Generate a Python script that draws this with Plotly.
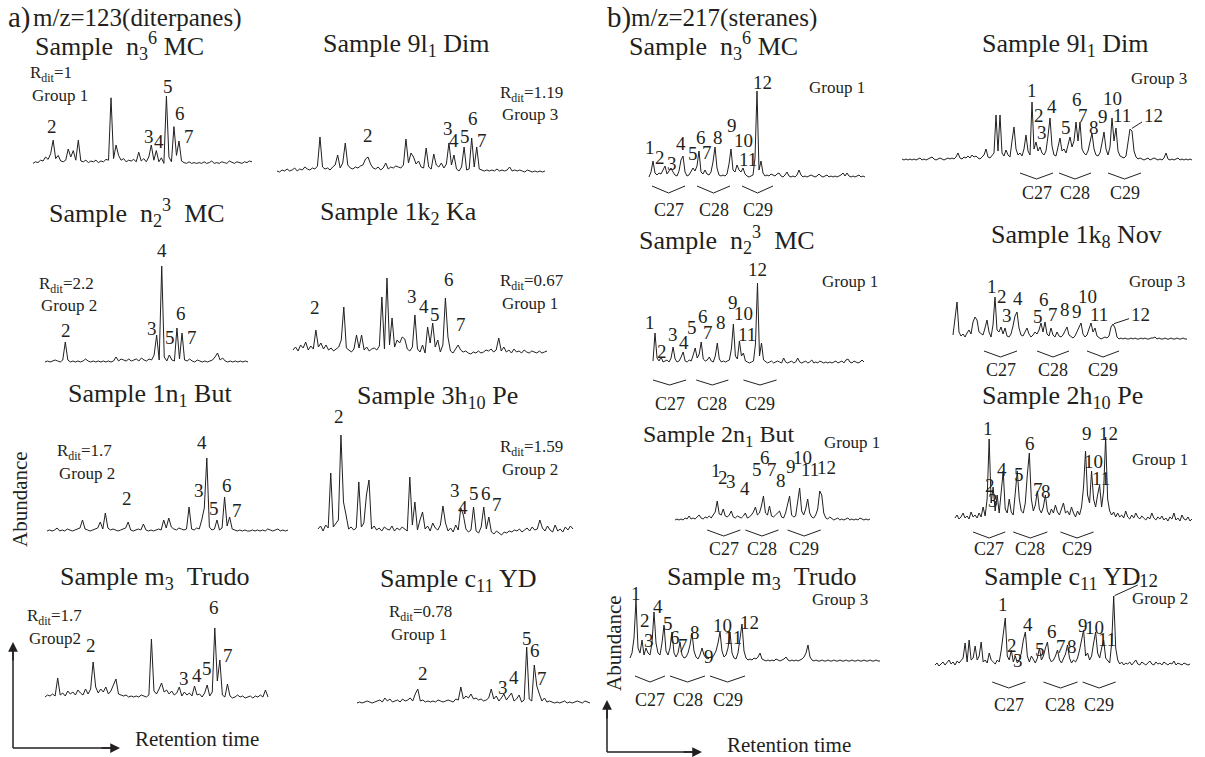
import plotly.graph_objects as go

W, H = 1205, 757
FONT = "Liberation Serif, Times New Roman, serif"
INK = "#231f20"
NB = "\u00a0"

# ---------------- data: m/z 123 (diterpanes) chromatograms ----------------
a1_ab = [2,4,3,6,5,10,7,14,31,8,12,5,4,6,20,10,18,6,31,5,4,6,3,5,4,6,3,5,4,7,6,84,8,25,12,6,8,4,6,5,7,4,16,5,8,4,10,25,6,18,4,9,2,86,10,4,48,12,30,5,3,2,4,2,3,2,3,2,4,2,3,5,2,3,2,4,3,2,5,3,2,4,3,2,4,3,5,4]
a2_ab = [2,1,3,2,4,2,3,5,2,4,3,6,4,3,5,4,7,36,6,4,5,3,6,8,18,5,10,30,8,5,4,6,5,7,8,14,16,9,5,4,6,3,5,10,4,6,5,7,6,5,8,34,10,20,16,9,12,6,5,25,6,4,19,8,6,10,5,9,30,8,18,4,2,6,26,3,4,35,6,26,4,3,2,3,2,3,2,4,2,3,2,3,6,2,3,2,3,2,1,3,2,1,2,1,2,1,2]
a3_ab = [1,2,1,2,3,2,1,3,21,3,1,2,1,2,1,2,4,2,1,2,1,2,1,2,1,2,1,2,6,2,4,3,2,4,2,3,4,2,5,3,2,4,3,8,28,3,97,6,2,8,3,2,35,4,30,3,2,4,2,1,3,2,1,2,1,2,3,6,10,3,5,2,1,2,1,2,1,2,1,2,1]
a4_ab = [5,8,4,10,7,13,5,9,6,25,8,12,6,10,5,7,4,6,8,15,48,7,5,3,6,20,7,20,5,8,4,6,7,5,9,58,6,77,10,37,8,15,12,18,16,6,4,8,40,6,3,10,2,28,12,32,8,15,3,10,57,18,4,2,6,10,5,3,4,2,1,3,2,4,2,3,5,4,6,3,5,17,4,8,3,5,2,6,3,4,2,5,3,2,4,3,2,4,2,3,4]
a5_ab = [1,2,1,2,4,1,2,1,3,2,1,2,3,4,12,3,2,1,2,3,4,10,3,19,4,2,3,2,1,2,3,4,10,2,1,2,3,2,8,2,1,2,1,2,3,2,12,4,14,5,3,2,4,3,2,3,25,3,2,4,3,12,24,74,5,2,3,12,2,4,35,6,15,3,2,1,2,1,2,1,1,2,1,2,1,2,1,3,2,1,2,3,1,2,1,2]
a6_ab = [6,9,4,10,7,62,8,12,15,100,33,20,6,8,5,7,53,8,12,40,55,6,9,5,7,4,8,6,5,9,4,7,5,8,6,4,58,10,33,5,15,23,6,9,4,12,7,5,10,29,12,4,7,3,10,5,27,20,6,3,5,28,4,2,8,28,6,18,3,1,4,2,0,3,2,4,3,5,4,6,3,5,7,4,8,5,6,15,7,4,9,5,3,10,4,6,3,8,5,9,6]
a7_ab = [2,4,3,5,3,21,4,6,3,8,5,7,4,9,6,4,10,5,10,37,12,6,10,7,12,5,8,14,20,5,4,3,4,2,3,2,3,2,4,3,2,4,60,8,5,10,16,7,9,5,8,4,6,12,3,7,4,6,3,13,4,5,2,6,14,3,7,71,18,39,4,2,15,3,1,2,4,2,3,1,2,3,1,3,2,4,2,9,2]
a8_ab = [1,2,1,2,3,2,1,2,3,4,2,6,3,5,2,3,4,2,5,3,4,6,3,10,15,3,4,2,3,2,3,2,4,3,2,3,4,3,2,5,4,17,5,8,6,10,5,6,4,5,3,4,6,15,5,8,3,6,10,4,7,11,3,5,9,2,4,57,5,3,39,18,10,3,6,2,3,2,1,2,1,2,3,1,2,1,2,3,2,1,3,2,1]

# ---------------- data: m/z 217 (steranes) chromatograms ----------------
b1_ab = [1,6,17,5,3,5,4,8,12,4,7,10,6,3,2,7,18,22,6,2,3,6,10,7,12,27,6,4,8,4,3,6,16,31,10,3,2,3,2,4,14,29,8,6,13,8,6,10,4,2,1,2,3,20,87,8,17,5,2,3,2,4,3,2,4,5,2,1,3,6,2,1,2,1,3,8,3,1,2,1,2,3,2,1,2,4,2,1,2,3,1,2,1,2,1,2,3,5,2,5,2,1,2,1,2,3,1,2,1]
b2_ab = [2,1,2,1,2,1,2,1,2,3,1,2,1,2,3,4,2,1,2,3,2,1,2,3,2,3,2,4,8,3,2,4,3,5,3,6,4,5,3,2,4,6,12,4,3,5,8,46,10,46,8,5,11,6,4,20,34,12,6,8,5,12,26,10,6,59,12,19,10,14,8,6,10,25,43,15,6,5,14,23,10,12,8,16,24,14,20,39,20,39,12,8,6,10,20,28,12,6,5,8,18,29,12,6,14,43,20,33,10,5,4,3,5,20,32,30,10,4,2,3,2,1,2,3,1,2,3,2,1,2,1,3,8,2,1,2,1,2,3,1,2,1,2,1,2,1]
b3_ab = [3,31,6,3,7,2,3,4,2,6,17,5,2,3,7,12,3,2,4,3,9,16,6,10,22,5,3,4,7,3,2,8,21,5,2,3,2,3,4,15,40,8,5,23,8,11,3,2,1,2,3,20,81,8,21,4,2,1,2,3,1,2,3,2,1,6,2,1,2,3,1,2,6,2,1,2,3,1,2,4,1,2,1,3,2,1,2,1,2,1,2,3,1,2,3,1,4,5,2,1,3,2,1,2,4,2]
b4_ab = [5,20,38,8,4,6,3,7,10,6,18,23,20,8,6,5,12,20,8,3,15,43,10,8,13,6,12,4,3,6,14,24,28,12,5,4,8,12,6,3,5,8,6,10,17,8,18,6,4,12,5,3,8,4,3,5,9,13,5,3,2,4,8,13,17,6,3,5,12,17,8,12,4,2,1,2,3,2,4,13,16,12,3,1,2,1,2,1,1,2,1,2,1,1,2,1,2,1,1,2,2,3,1,2,1,1,2,1,1,2,1,1,2,1,1,2,1,1]
b5_ab = [1,2,1,2,1,3,2,5,2,3,2,4,6,3,2,4,3,5,3,6,9,20,7,6,12,5,4,6,10,4,3,5,4,3,5,8,3,4,6,9,14,6,8,15,25,8,6,15,5,4,6,8,10,4,3,8,18,25,6,4,5,20,33,10,6,12,22,8,4,3,6,12,30,26,8,3,2,4,2,1,2,3,1,2,1,2,3,1,2,1,2,1,3,2,1,2,1,2]
b6_ab = [5,8,4,6,10,5,7,4,11,6,8,5,10,6,16,7,24,84,20,36,12,28,10,32,52,14,10,24,11,8,32,52,24,12,10,20,48,70,24,12,18,32,14,10,16,28,12,8,14,10,18,11,8,14,20,10,12,8,16,10,6,12,8,16,36,72,28,20,52,24,16,28,38,16,32,86,24,12,8,11,6,10,6,8,5,12,6,4,8,5,10,6,4,7,5,3,6,4,10,5,3,6,4,7,3,5,2,6,4,10,3,5,2,8,4,3,6,2,4]
b7_ab = [5,10,25,63,15,10,23,8,15,10,8,20,51,20,10,8,20,38,12,8,15,31,10,6,10,21,8,5,6,10,18,30,12,6,4,8,15,8,5,4,6,5,8,12,20,31,12,6,8,15,31,10,5,4,10,25,39,12,5,3,4,3,5,4,6,10,4,3,2,3,2,3,2,4,3,2,3,4,6,3,2,3,2,3,2,3,4,6,10,18,6,3,2,3,2,2,3,2,2,3,2,2,3,2,2,3,2,2,3,2,2,3,2,2,3,2,2,3,2,2,3,2,2,3,2,2]
b8_ab = [3,5,2,4,6,3,5,8,4,6,3,7,5,8,10,25,6,28,8,10,22,8,12,26,6,8,5,15,8,6,4,8,6,18,35,50,12,8,18,6,12,5,8,15,28,36,12,6,12,8,5,10,20,8,12,20,26,10,6,8,12,18,8,5,10,14,23,10,5,8,6,10,18,30,38,12,15,8,12,25,36,15,10,20,28,10,8,5,25,72,20,8,4,6,3,5,4,6,3,5,8,4,3,6,4,3,5,7,4,3,6,4,5,3,6,4,3,5,4,7,3,5,4,3,5,4,3,4]

# C27 / C28 / C29 retention windows (sample index) for sterane panels
b1_c = [[1.5, 18], [24, 40.5], [46.5, 62]]
b2_c = [[59, 75.5], [78.5, 94.5], [103, 119.5]]
b3_c = [[0, 16.5], [21.5, 37.5], [45, 61.5]]
b4_c = [[15.5, 32], [42, 58], [67, 83]]
b5_c = [[16, 32.5], [35, 51.5], [56, 72.5]]
b6_c = [[9, 25], [29, 46], [52.5, 69]]
b7_c = [[2.5, 17.5], [20, 37.5], [40, 57.5]]
b8_c = [[28.5, 45], [54, 71], [73.5, 90]]

# texts
a_peak_names = ["2", "3", "4", "5", "6", "7"]
b_peak_names = ["1", "2", "3", "4", "5", "6", "7", "8", "9", "10", "11", "12"]
carbon_names = ["C27", "C28", "C29"]
a_titles = ["Sample" + NB*2 + "n<sub>3</sub><sup>6</sup> MC", "Sample 9l<sub>1</sub> Dim",
            "Sample" + NB*2 + "n<sub>2</sub><sup>3</sup>" + NB*2 + "MC", "Sample 1k<sub>2</sub> Ka",
            "Sample 1n<sub>1</sub> But", "Sample 3h<sub>10</sub> Pe",
            "Sample m<sub>3</sub>" + NB*2 + "Trudo", "Sample c<sub>11</sub> YD"]
b_titles = ["Sample" + NB*2 + "n<sub>3</sub><sup>6</sup> MC", "Sample 9l<sub>1</sub> Dim",
            "Sample" + NB*2 + "n<sub>2</sub><sup>3</sup>" + NB*2 + "MC", "Sample 1k<sub>8</sub> Nov",
            "Sample 2n<sub>1</sub> But", "Sample 2h<sub>10</sub> Pe",
            "Sample m<sub>3</sub>" + NB*2 + "Trudo", "Sample c<sub>11</sub> YD"]
a_rdit = ["1", "1.19", "2.2", "0.67", "1.7", "1.59", "1.7", "0.78"]
a_groups = ["Group 1", "Group 3", "Group 2", "Group 1", "Group 2", "Group 2", "Group2", "Group 1"]
b_groups = ["Group 1", "Group 3", "Group 1", "Group 3", "Group 1", "Group 1", "Group 3", "Group 2"]

# ---------------- layout (pixel geometry of each panel) ----------------
a_geo = [
    dict(x0=33, x1=252, base=165, ys=0.8, title=(120, 46), tfs=26, rd=(28, 74),
         lab=[(7.6, 48), (46, 36), (50, 29), (53.6, 98), (58.4, 65), (62, 36)]),
    dict(x0=277, x1=545, base=173, title=(406, 45), tfs=26, rd=(498, 94),
         lab=[(36, 38), (67.6, 45), (70, 33), (74.3, 37), (77.5, 55), (81, 33)]),
    dict(x0=45, x1=248, base=363, title=(137, 213), tfs=26, rd=(37, 285),
         lab=[(8.3, 33), (42.2, 35), (46.1, 113), (49.3, 26), (53.6, 50), (58, 26)]),
    dict(x0=293, x1=547, base=355, title=(398, 213), tfs=26, rd=(498, 282),
         lab=[(8.7, 47), (47, 58), (51.6, 48), (56, 40), (61.4, 75), (66, 30)]),
    dict(x0=47, x1=288, base=532, title=(150, 395), tfs=26, rd=(55, 452),
         lab=[(31.5, 34), (60, 42), (61, 90), (66, 24), (71, 47), (75, 22)]),
    dict(x0=318, x1=573, base=535, title=(437, 397), tfs=26, rd=(498, 448),
         lab=[(8.2, 119), (53.7, 45), (57, 28), (61, 42), (66, 42), (70, 31)]),
    dict(x0=45, x1=268, base=699, title=(154, 578), tfs=26, rd=(25, 617),
         lab=[(18, 54), (55, 21), (60, 24), (64, 31), (66.7, 92), (72.2, 44)]),
    dict(x0=357, x1=590, base=704, title=(458, 580), tfs=26, rd=(387, 613),
         lab=[(26, 31), (57.6, 17), (62, 27), (67, 66), (70.3, 54), (73, 26)]),
]
b_geo = [
    dict(x0=649, x1=865, base=178, title=(713, 46), tfs=26, gp=(807, 88), br=(-8, -15), cl=-32, lead=None,
         lab=[(0.5, 31), (5.5, 21), (11.5, 15), (16, 35), (22, 25), (26, 41), (29, 26), (34.5, 41), (41.5, 53), (47, 38), (49.5, 19), (56.5, 96)]),
    dict(x0=902, x1=1192, base=161, title=(1065, 45), tfs=26, gp=(1129, 78), br=(-12, -18), cl=-32, lead=(114.5, 32),
         lab=[(65, 71), (68.5, 46), (70, 29), (75, 55), (82, 34), (87.5, 62), (90.5, 46), (96, 34), (100.5, 45), (105, 63), (110, 46), (125.5, 46)]),
    dict(x0=653, x1=864, base=364, title=(727, 240), tfs=26, gp=(820, 282), br=(-16, -21), cl=-40, lead=None,
         lab=[(-1.5, 41), (4.5, 12), (10, 29), (15.5, 21), (19.5, 36), (25, 47), (27.5, 31), (34, 41), (40, 61), (45, 50), (47, 29), (52, 94)]),
    dict(x0=953, x1=1187, base=340, title=(1076, 236), tfs=26, gp=(1127, 282), br=(-11, -17), cl=-30, lead=(80, 16),
         lab=[(19.5, 53), (24.5, 43), (27, 24), (32.5, 41), (42.5, 23), (45.5, 40), (50, 25), (56, 30), (62, 28), (67, 43), (73, 25), (93.5, 25)]),
    dict(x0=675, x1=870, base=521, title=(718, 436), tfs=24, gp=(822, 442), br=(-9, -15), cl=-28, lead=None,
         lab=[(20.5, 51), (24, 44), (28, 40), (35, 33), (41, 52), (45, 64), (48.5, 52), (52.5, 41), (57.5, 55), (63.5, 64), (67, 52), (75.5, 54)]),
    dict(x0=955, x1=1192, base=523, title=(1062, 397), tfs=26, gp=(1130, 459), br=(-9, -15), cl=-26, lead=None,
         lab=[(16.5, 95), (17.5, 38), (19, 23), (23.5, 54), (32, 49), (37.5, 80), (41.5, 34), (45.5, 32), (65.5, 90), (69, 62), (72.5, 45), (76.5, 90)]),
    dict(x0=630, x1=880, base=663, title=(761, 578), tfs=26, gp=(810, 599), br=(-13, -19), cl=-37, lead=None,
         lab=[(3, 70), (7.5, 43), (9.5, 23), (14, 57), (19, 40), (22.5, 26), (26.5, 18), (32.5, 31), (39.5, 7), (46, 38), (51.5, 26), (59.5, 41)]),
    dict(x0=935, x1=1190, base=668, title=(1062, 578), tfs=26, gp=(1130, 598), br=(-14, -20), cl=-37, lead=(89, 72),
         lab=[(34, 64), (38.5, 23), (41.5, 8), (46.5, 44), (52.5, 19), (58.5, 37), (63, 22), (68, 22), (73.5, 43), (79.5, 41), (85.5, 29), (106.5, 88)]),
]

a_series = [a1_ab, a2_ab, a3_ab, a4_ab, a5_ab, a6_ab, a7_ab, a8_ab]
b_series = [b1_ab, b2_ab, b3_ab, b4_ab, b5_ab, b6_ab, b7_ab, b8_ab]
b_cwin = [b1_c, b2_c, b3_c, b4_c, b5_c, b6_c, b7_c, b8_c]

PEAK_FS = 19
TXT_FS = 17
CL_FS = 18

fig = go.Figure()
layout = dict(width=W, height=H, margin=dict(l=0, r=0, t=0, b=0, pad=0),
              paper_bgcolor="white", plot_bgcolor="rgba(0,0,0,0)",
              showlegend=False, annotations=[], shapes=[], hovermode=False)
ann = layout["annotations"]


def px(xp):
    return xp / W


def py(yp):
    return 1 - yp / H


def text(x, y, s, size, xanchor="center", yanchor="middle", **kw):
    ann.append(dict(x=px(x), y=py(y), xref="paper", yref="paper", text=s, showarrow=False,
                    xanchor=xanchor, yanchor=yanchor, font=dict(family=FONT, size=size, color=INK), **kw))


panel_no = [0]


def add_panel(ab, geo, names, cwin=None):
    panel_no[0] += 1
    k = panel_no[0]
    sfx = "" if k == 1 else str(k)
    n = len(ab)
    step = (geo["x1"] - geo["x0"]) / (n - 1)
    ys = geo.get("ys", 1.0)          # pixels per abundance unit
    pad = 4
    max_lab = max(h for _, h in geo["lab"])
    ymax = max_lab + 12 / ys
    ymin = (geo["cl"] - 12) if cwin is not None else -8 / ys
    base = geo["base"]
    layout["xaxis" + sfx] = dict(domain=[px(geo["x0"] - pad * step), px(geo["x1"] + pad * step)],
                                 range=[-pad, n - 1 + pad], visible=False, fixedrange=True,
                                 anchor="y" + sfx)
    layout["yaxis" + sfx] = dict(domain=[max(0, py(base - ymin * ys)), min(1, py(base - ymax * ys))],
                                 range=[ymin, ymax], visible=False, fixedrange=True,
                                 anchor="x" + sfx)
    xr, yr = "x" + sfx, "y" + sfx
    fig.add_trace(go.Scatter(x=list(range(n)), y=ab, mode="lines",
                             line=dict(color=INK, width=1), xaxis=xr, yaxis=yr,
                             hoverinfo="skip"))
    for idx, (name, (lx, ly)) in enumerate(zip(names, geo["lab"])):
        if geo.get("lead") is not None and idx == len(names) - 1:
            tx, ty = geo["lead"]
            ann.append(dict(x=tx, y=ty, xref=xr, yref=yr, ax=lx, ay=ly, axref=xr, ayref=yr,
                            text=name, showarrow=True, arrowhead=0, arrowwidth=1,
                            arrowcolor=INK, standoff=1,
                            font=dict(family=FONT, size=PEAK_FS, color=INK)))
        else:
            ann.append(dict(x=lx, y=ly, xref=xr, yref=yr, text=name, showarrow=False,
                            xanchor="center", yanchor="middle",
                            font=dict(family=FONT, size=PEAK_FS, color=INK)))
    if cwin is not None:
        top, bot = geo["br"]
        bx, by = [], []
        for (s, e), cname in zip(cwin, carbon_names):
            bx += [s, (s + e) / 2, e, None]
            by += [top, bot, top, None]
            ann.append(dict(x=(s + e) / 2, y=geo["cl"], xref=xr, yref=yr, text=cname,
                            showarrow=False, xanchor="center", yanchor="middle",
                            font=dict(family=FONT, size=CL_FS, color=INK)))
        fig.add_trace(go.Scatter(x=bx, y=by, mode="lines", line=dict(color=INK, width=1),
                                 xaxis=xr, yaxis=yr, hoverinfo="skip"))


for ab, geo, title, rd, grp in zip(a_series, a_geo, a_titles, a_rdit, a_groups):
    add_panel(ab, geo, a_peak_names)
    text(geo["title"][0], geo["title"][1], title, geo["tfs"])
    text(geo["rd"][0], geo["rd"][1], "R<sub>dit</sub>=" + rd, TXT_FS, xanchor="left")
    text(geo["rd"][0] + 2, geo["rd"][1] + 21, grp, TXT_FS, xanchor="left")

for ab, geo, title, grp, cw in zip(b_series, b_geo, b_titles, b_groups, b_cwin):
    add_panel(ab, geo, b_peak_names, cw)
    text(geo["title"][0], geo["title"][1], title, geo["tfs"])
    text(geo["gp"][0], geo["gp"][1], grp, TXT_FS, xanchor="left")

# headers
text(6, 17, "a)", 29, xanchor="left")
text(31, 18, "m/z=123(diterpanes)", 25, xanchor="left")
text(605, 17, "b)", 29, xanchor="left")
text(629, 18, "m/z=217(steranes)", 25, xanchor="left")

# axis hints (Abundance / Retention time)
for (cx, ctop, cbot, cright, ab_y, rt_x, rt_y) in [(13, 642, 748, 120, 499, 133, 739),
                                                   (607, 700, 752, 702, 643, 725, 745)]:
    layout["shapes"].append(dict(type="line", xref="paper", yref="paper",
                                 x0=px(cx), x1=px(cx), y0=py(cbot), y1=py(ctop + 4),
                                 line=dict(color=INK, width=1.5)))
    layout["shapes"].append(dict(type="line", xref="paper", yref="paper",
                                 x0=px(cx), x1=px(cright - 4), y0=py(cbot), y1=py(cbot),
                                 line=dict(color=INK, width=1.5)))
    ann.append(dict(x=px(cx), y=py(ctop), xref="paper", yref="paper", ax=0, ay=20, text="",
                    showarrow=True, arrowhead=2, arrowsize=1.3, arrowwidth=1.5, arrowcolor=INK))
    ann.append(dict(x=px(cright), y=py(cbot), xref="paper", yref="paper", ax=-20, ay=0, text="",
                    showarrow=True, arrowhead=2, arrowsize=1.3, arrowwidth=1.5, arrowcolor=INK))
    text(cx + 7, ab_y, "Abundance", 21, textangle=-90)
    text(rt_x, rt_y, "Retention time", 21, xanchor="left")

fig.update_layout(**layout)
fig.write_html("out.html",
               config={"displayModeBar": False, "staticPlot": True},
               post_script="document.body.style.margin='0px';document.body.style.padding='0px';"
                           "document.body.style.overflow='hidden';")
